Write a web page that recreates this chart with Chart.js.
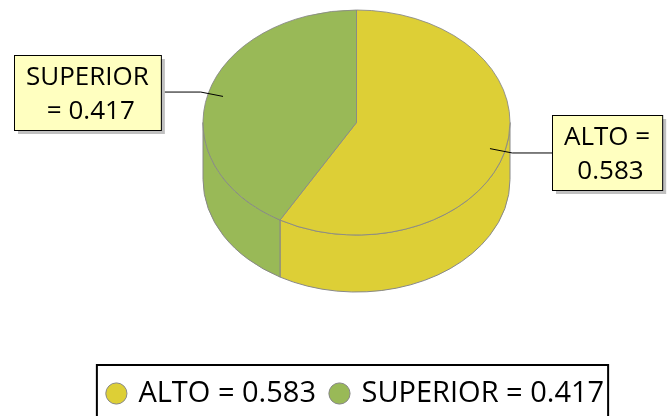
<!DOCTYPE html>
<html>
<head>
<meta charset="utf-8">
<script src="https://cdn.jsdelivr.net/npm/chart.js@4.4.1/dist/chart.umd.min.js"></script>
<style>
  html, body { margin: 0; padding: 0; background: #fff; overflow: hidden; }
</style>
</head>
<body>
<canvas id="myChart" width="668" height="418"></canvas>
<script>
const categories = ['ALTO', 'SUPERIOR'];
const shares = [0.583, 0.417];
const sliceColors = ['#DDCF36', '#99B957'];

const tilt = 0.733;   // vertical squash of the top face
const depth = 57;     // thickness of the pie

const labelText = (i) => `${categories[i]} = ${shares[i].toFixed(3)}`;

// top face ellipse, taken from the arc geometry chart.js computed
function faceOf(chart) {
    const arc = chart.getDatasetMeta(0).data[0];
    const r = arc.outerRadius;
    return { x: arc.x, y: arc.y, cx: arc.x, cy: chart.chartArea.top + r * tilt, rx: r, ry: r * tilt };
}

// greedy word wrap, the space stays at the start of the next line
function wrap(ctx, text, maxWidth) {
    const words = text.split(' ');
    const lines = [];
    let cur = '';
    words.forEach((w, k) => {
        const test = k ? cur + ' ' + w : w;
        if (cur.trim() && ctx.measureText(test).width > maxWidth) {
            lines.push(cur);
            cur = ' ' + w;
        } else {
            cur = test;
        }
    });
    lines.push(cur);
    return lines;
}

const pie3d = {
    id: 'pie3d',
    beforeDatasetsDraw(chart) {
        const ctx = chart.ctx;
        const arcs = chart.getDatasetMeta(0).data;
        const f = faceOf(chart);
        ctx.save();
        ctx.lineWidth = 1;
        ctx.strokeStyle = '#888';
        arcs.forEach(arc => {
            for (const off of [0, 2 * Math.PI]) {
                const a = Math.max(arc.startAngle, off);
                const b = Math.min(arc.endAngle, off + Math.PI);
                if (b <= a) continue;
                ctx.beginPath();
                ctx.ellipse(f.cx, f.cy, f.rx, f.ry, 0, a, b);
                ctx.ellipse(f.cx, f.cy + depth, f.rx, f.ry, 0, b, a, true);
                ctx.closePath();
                ctx.fillStyle = arc.options.backgroundColor;
                ctx.fill();
                ctx.stroke();
            }
        });
        ctx.restore();
        // squash the circular pie into the top ellipse
        ctx.save();
        ctx.translate(f.cx, f.cy);
        ctx.scale(1, tilt);
        ctx.translate(-f.x, -f.y);
    },
    afterDatasetsDraw(chart) {
        const ctx = chart.ctx;
        ctx.restore();
        const arcs = chart.getDatasetMeta(0).data;
        const f = faceOf(chart);
        const lineH = 33.5, padX = 12, padY = 4, size = 26;
        ctx.save();
        ctx.font = `${size}px "Open Sans"`;
        arcs.forEach((arc, i) => {
            const mid = (arc.startAngle + arc.endAngle) / 2;
            const cos = Math.cos(mid), sin = Math.sin(mid);
            const ax = f.cx + cos * f.rx * 0.9, ay = f.cy + sin * f.ry * 0.9;
            const bx = f.cx + cos * f.rx * 1.05, by = f.cy + sin * f.ry * 1.05;
            const lines = wrap(ctx, labelText(i), chart.width * 0.2);
            const w = Math.max(...lines.map(l => ctx.measureText(l).width)) + 2 * padX;
            const h = lines.length * lineH + 2 * padY;
            const left = Math.round(cos < 0 ? bx - 40 - w : bx + 40);
            const top = Math.round(by - h / 2);

            ctx.strokeStyle = '#000';
            ctx.lineWidth = 1;
            ctx.beginPath();
            ctx.moveTo(ax, ay);
            ctx.lineTo(bx, by);
            ctx.lineTo(cos < 0 ? left + w : left, by);
            ctx.stroke();

            ctx.fillStyle = '#C0C0C0';
            ctx.fillRect(left + 4, top + 4, w, h);
            ctx.fillStyle = '#FFFFC0';
            ctx.fillRect(left, top, w, h);
            ctx.strokeRect(left + 0.5, top + 0.5, w, h);

            ctx.fillStyle = '#000';
            ctx.textAlign = 'center';
            ctx.textBaseline = 'alphabetic';
            lines.forEach((l, k) => {
                ctx.fillText(l, left + w / 2, top + padY + lineH * (k + 0.5) + size * 0.357);
            });
        });
        ctx.restore();
    }
};

const legendFrame = {
    id: 'legendFrame',
    afterDraw(chart) {
        const ctx = chart.ctx;
        const lg = chart.legend;
        const boxes = lg.legendHitBoxes;
        const first = boxes[0], last = boxes[boxes.length - 1];
        const left = first.left - 12, right = last.left + last.width + 4;
        ctx.save();
        ctx.lineWidth = 2;
        ctx.strokeStyle = '#000';
        ctx.strokeRect(left, lg.top + 2, right - left, chart.height);
        ctx.restore();
    }
};

new Chart(document.getElementById('myChart').getContext('2d'), {
    type: 'pie',
    data: {
        labels: categories,
        datasets: [{
            data: shares,
            backgroundColor: sliceColors,
            borderColor: '#888',
            borderWidth: 1,
            radius: 153.5,
            clip: false
        }]
    },
    options: {
        responsive: false,
        animation: false,
        events: [],
        layout: { padding: { left: 45, top: 10 } },
        plugins: {
            tooltip: { enabled: false },
            legend: {
                position: 'bottom',
                labels: {
                    usePointStyle: true,
                    boxWidth: 15,
                    boxHeight: 15,
                    padding: 16,
                    color: '#000',
                    font: { family: 'Open Sans', size: 29 },
                    generateLabels: () => categories.map((c, i) => ({
                        text: labelText(i),
                        fillStyle: sliceColors[i],
                        strokeStyle: '#888',
                        lineWidth: 1,
                        pointStyle: 'circle',
                        hidden: false,
                        index: i
                    }))
                }
            }
        }
    },
    plugins: [pie3d, legendFrame]
});
</script>
</body>
</html>
